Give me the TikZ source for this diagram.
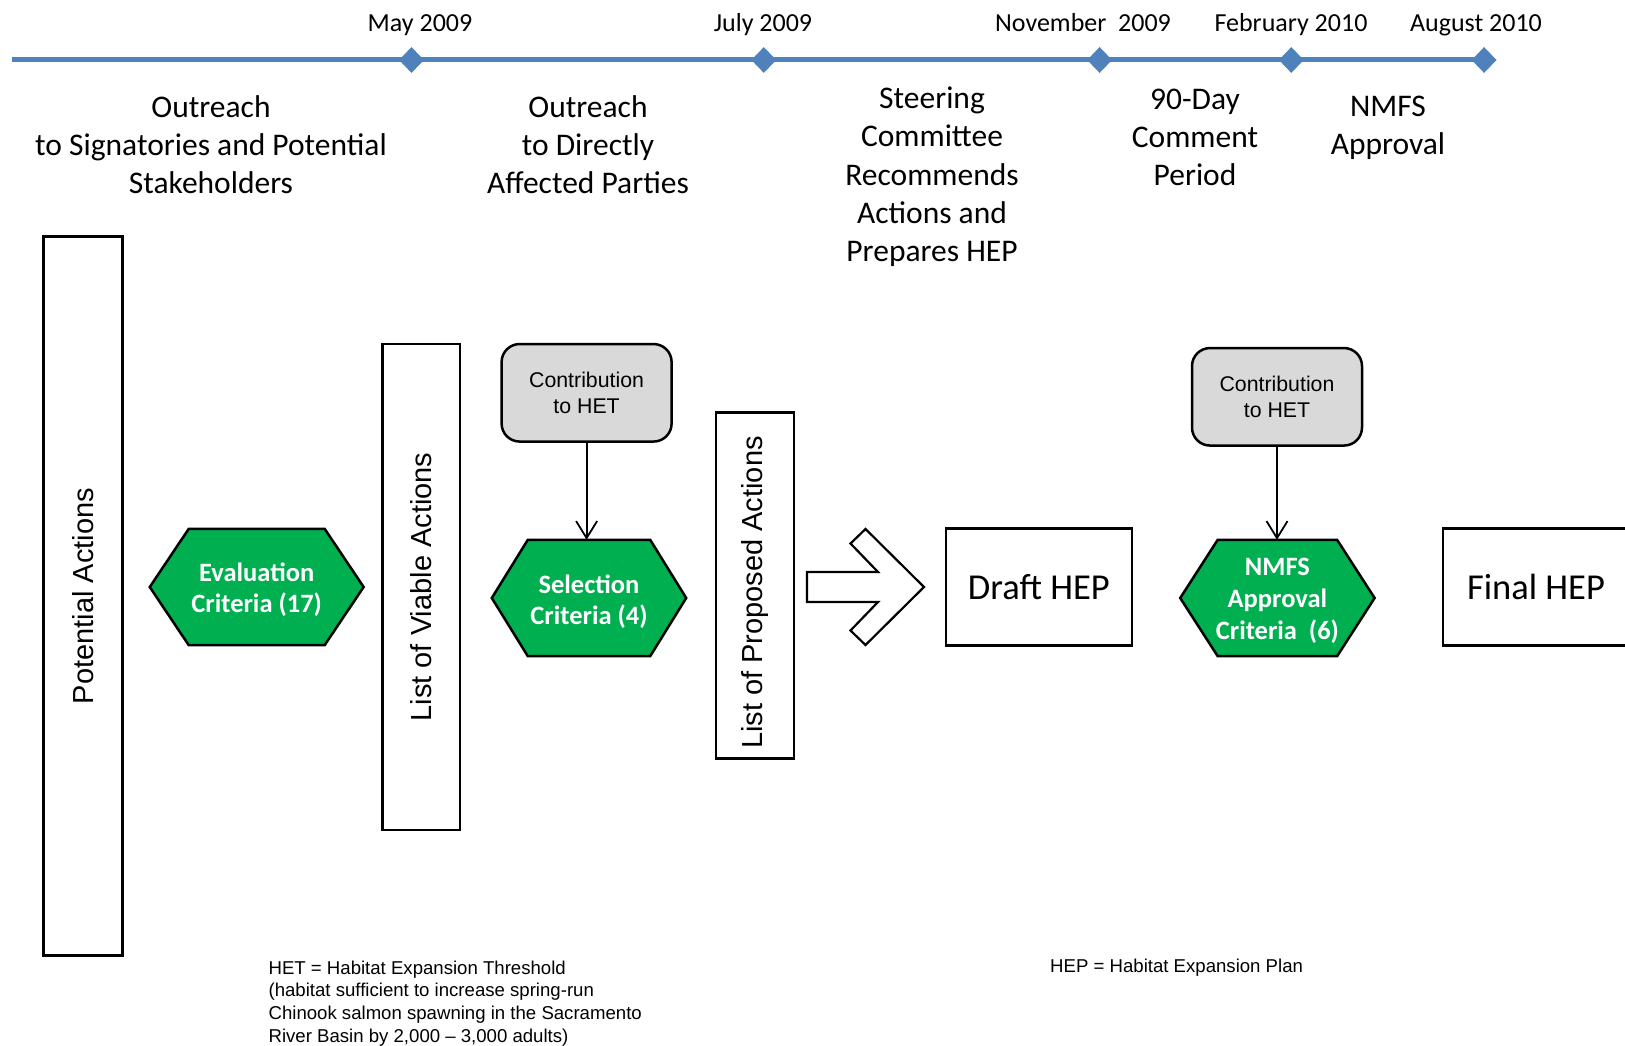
\documentclass[tikz,border=0pt]{standalone}
\usepackage{fontspec}
\setmainfont{Carlito}
\newfontfamily\arialf{Liberation Sans}
\usetikzlibrary{shapes.geometric,arrows.meta,backgrounds}
\definecolor{tlblue}{HTML}{4F81BD}
\definecolor{hexgreen}{HTML}{00B050}
\definecolor{boxgray}{HTML}{D9D9D9}
\newcommand\hexbg[2]{%
  \begin{scope}[on background layer]
    \draw[hexshape] (#1.west) -- ([xshift=#2]#1.north west) -- ([xshift=-#2]#1.north east)
      -- (#1.east) -- ([xshift=-#2]#1.south east) -- ([xshift=#2]#1.south west) -- cycle;
  \end{scope}}
\begin{document}
\begin{tikzpicture}[x=1pt,y=-1pt,
  datelbl/.style={font=\fontsize{26}{31}\selectfont, anchor=base, inner sep=0},
  phase/.style={font=\fontsize{31.5}{38.3}\selectfont, align=center, inner sep=0},
  tldiamond/.style={diamond, fill=tlblue, minimum width=25pt, minimum height=26pt, inner sep=0},
  vbox/.style={draw, line width=2.5pt, inner sep=0, rotate=90, font=\arialf\fontsize{29}{34}\selectfont},
  contrib/.style={draw, line width=2.5pt, fill=boxgray, rounded corners=18pt, minimum width=170pt, minimum height=97.5pt, align=center, font=\arialf\fontsize{21.3}{25.5}\selectfont, inner sep=0},
  hexnode/.style={minimum height=116pt, align=center, text=white, font=\bfseries\fontsize{26.5}{32}\selectfont, inner sep=0},
  hexshape/.style={fill=hexgreen, draw=black, line width=2.5pt, line join=miter},
  plan/.style={draw, line width=2.5pt, minimum width=185.7pt, minimum height=117pt, font=\fontsize{36.5}{44}\selectfont, inner sep=0},
  feed/.style={line width=1.8pt, -{Straight Barb[length=17pt,width=21pt,line width=1.8pt]}},
  note/.style={font=\arialf\fontsize{18.6}{22.7}\selectfont, align=left, inner sep=0},
  blockarrow/.style={draw, line width=2.2pt, fill=white, line join=miter},
]
\useasboundingbox (0,0) rectangle (1625,1046);

% timeline
\coordinate (tlstart) at (12,60);
\node[tldiamond] (d1) at (411.5,60) {};
\node[tldiamond] (d2) at (763.8,60) {};
\node[tldiamond] (d3) at (1099.6,60) {};
\node[tldiamond] (d4) at (1291.3,60) {};
\node[tldiamond] (d5) at (1484.1,60) {};
\draw[tlblue, line width=5pt] (tlstart) -- (d5.center);

\node[datelbl] (t1) at (420,31.5) {May 2009};
\node[datelbl] (t2) at (763,31.5) {July 2009};
\node[datelbl] (t3) at (1083,31.5) {November\ \ 2009};
\node[datelbl] (t4) at (1291,31.5) {February 2010};
\node[datelbl] (t5) at (1476,31.5) {August 2010};

% phase labels
\node[phase] (p1) at (211,144.5) {Outreach\\to Signatories and Potential\\Stakeholders};
\node[phase] (p2) at (588,144.5) {Outreach\\to Directly\\Affected Parties};
\node[phase] (p3) at (932,177) {Steering\\Committee\\Recommends\\Actions and\\Prepares HEP};
\node[phase] (p4) at (1195,137.5) {90-Day\\Comment\\Period};
\node[phase] (p5) at (1388,128) {NMFS\\Approval};

% vertical boxes
\node[vbox, minimum width=719.3pt, minimum height=78.8pt] (pa) at (82.9,596) {Potential Actions};
\node[vbox, minimum width=486pt, minimum height=77.8pt] (lva) at (421.3,587) {List of Viable Actions};
\node[vbox, minimum width=346pt, minimum height=78pt] (lpa) at (755,585.6) {List of Proposed Actions\hspace*{14pt}};

% contribution boxes
\node[contrib] (c1) at (586.6,392.8) {Contribution\\to HET};
\node[contrib] (c2) at (1277,396.8) {Contribution\\to HET};

% hexagons
\node[hexnode, minimum width=213.5pt] (eval) at (256.7,587) {\rule{0pt}{24pt}Evaluation\\Criteria (17)};
\hexbg{eval}{39pt}
\node[hexnode, minimum width=194pt] (sel) at (589,598) {\rule{0pt}{26pt}Selection\\Criteria (4)};
\hexbg{sel}{36pt}
\node[hexnode, minimum width=194pt] (nmfs) at (1277.4,598) {\rule{0pt}{23pt}NMFS\\Approval\\Criteria\ \ (6)};
\hexbg{nmfs}{37.5pt}

\draw[feed] (c1.south) -- (c1.south |- sel.north);
\draw[feed] (c2.south) -- (c2.south |- nmfs.north);

% block arrow
\draw[blockarrow] (807,572) -- (878,572) -- (850.5,543.5) -- (865.5,529) -- (924,587)
  -- (865.5,645) -- (850.5,630.5) -- (878,602) -- (807,602) -- cycle;

% plans
\node[plan] (draft) at (1038.9,587.2) {Draft HEP};
\node[plan] (final) at (1536,587.2) {Final HEP};

% notes
\node[note, anchor=north west] (het) at (268.4,960.5) {HET = Habitat Expansion Threshold\\(habitat sufficient to increase spring-run\\Chinook salmon spawning in the Sacramento\\River Basin by 2,000 – 3,000 adults)};
\node[note, anchor=base west] (hep) at (1050,972.5) {HEP = Habitat Expansion Plan};
\end{tikzpicture}
\end{document}
